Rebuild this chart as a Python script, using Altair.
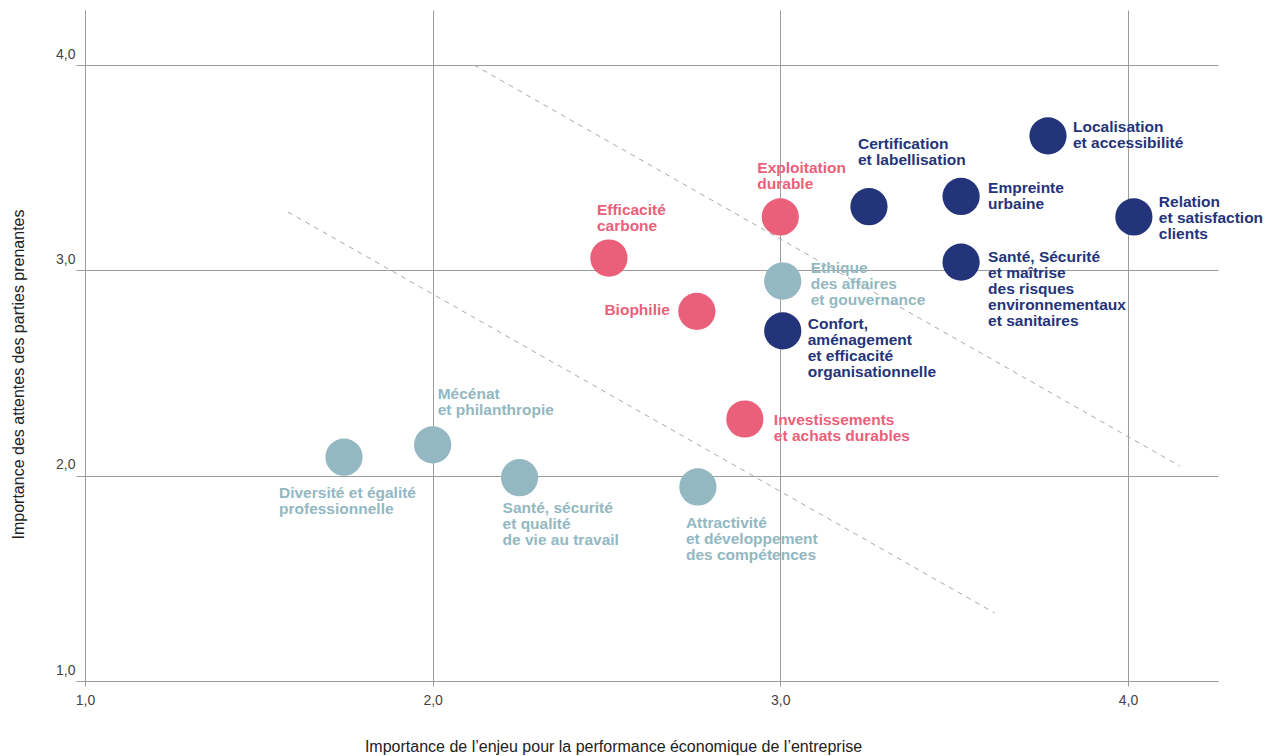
import altair as alt
import pandas as pd

# ---- data ----
names = [
    "Localisation", "Certification", "Empreinte", "Relation", "SanteSecurite", "Confort",
    "Exploitation", "Efficacite", "Biophilie", "Investissements",
    "Ethique", "Mecenat", "Diversite", "SanteQualite", "Attractivite",
]
labels = [
    "Localisation\net accessibilité",
    "Certification\net labellisation",
    "Empreinte\nurbaine",
    "Relation\net satisfaction\nclients",
    "Santé, Sécurité\net maîtrise\ndes risques\nenvironnementaux\net sanitaires",
    "Confort,\naménagement\net efficacité\norganisationnelle",
    "Exploitation\ndurable",
    "Efficacité\ncarbone",
    "Biophilie",
    "Investissements\net achats durables",
    "Ethique\ndes affaires\net gouvernance",
    "Mécénat\net philanthropie",
    "Diversité et égalité\nprofessionnelle",
    "Santé, sécurité\net qualité\nde vie au travail",
    "Attractivité\net développement\ndes compétences",
]
x_eco = [3.77, 3.255, 3.52, 4.017, 3.52, 3.007,
         3.0, 2.507, 2.76, 2.898,
         3.007, 2.0, 1.745, 2.25, 2.763]
y_stake = [3.655, 3.31, 3.36, 3.26, 3.04, 2.705,
           3.26, 3.06, 2.80, 2.276,
           2.948, 2.15, 2.09, 1.99, 1.945]
category = ["navy"] * 6 + ["pink"] * 4 + ["teal"] * 5

trend_id = ["haut", "haut", "bas", "bas"]
trend_x = [2.119, 4.149, 1.584, 3.617]
trend_y = [4.0, 2.047, 3.284, 1.331]

tick_values = [1, 2, 3, 4]

# ---- label layout (offsets from bubble centre) ----
label_dx = [25, -11, 27, 25, 27, 25, -23, -12, -27, 29, 28, 5, -65, -17, -12]
label_dy = [-16, -70, -15, -22, -12, -14, -56, -55, -8, -6, -20, -58, 29, 23, 29]
label_align = ["left"] * 8 + ["right"] + ["left"] * 6

df = pd.DataFrame(dict(idx=list(range(len(names))), name=names, label=labels,
                       x=x_eco, y=y_stake, cat=category))
tdf = pd.DataFrame(dict(id=trend_id, x=trend_x, y=trend_y))

FONT = "Liberation Sans"
GRID = "#9c9c9c"
xscale = alt.Scale(domain=[1, 4.259], nice=False, zero=False)
yscale = alt.Scale(domain=[1, 4.268], nice=False, zero=False)
cscale = alt.Scale(domain=["navy", "pink", "teal"], range=["#24347a", "#ea5f79", "#93b8c1"])
fmt = "replace(format(datum.value, '.1f'), '.', ',')"

xaxis = alt.Axis(values=tick_values, labelExpr=fmt, grid=True, gridColor=GRID,
                 domainColor=GRID, tickColor=GRID, tickSize=5, labelPadding=7, labelFlush=False,
                 labelFont=FONT, labelFontSize=14, labelColor="#444",
                 title="Importance de l\u2019enjeu pour la performance économique de l\u2019entreprise",
                 titleFont=FONT, titleFontSize=16, titleFontWeight="normal", titleColor="#222",
                 titleX=528, titleY=70, titleAlign="center", titleBaseline="alphabetic")
yaxis = alt.Axis(values=tick_values, labelExpr=fmt, grid=True, gridColor=GRID,
                 domainColor=GRID, tickColor=GRID, tickSize=9, labelPadding=1, labelFlush=False,
                 labelBaseline="alphabetic", labelOffset=-7,
                 labelFont=FONT, labelFontSize=14, labelColor="#444",
                 title="Importance des attentes des parties prenantes",
                 titleFont=FONT, titleFontSize=16, titleFontWeight="normal", titleColor="#222",
                 titleX=-67, titleY=364, titleAlign="center", titleBaseline="middle", titleAngle=270)

lines = alt.Chart(tdf).mark_line(color="#aaaaaa", strokeDash=[5, 5], strokeWidth=1).encode(
    x=alt.X("x:Q", scale=xscale, axis=xaxis),
    y=alt.Y("y:Q", scale=yscale, axis=yaxis),
    detail="id:N",
)

circles = alt.Chart(df).mark_circle(size=1385, opacity=1).encode(
    x=alt.X("x:Q", scale=xscale),
    y=alt.Y("y:Q", scale=yscale),
    color=alt.Color("cat:N", scale=cscale, legend=None),
)

layers = [lines, circles]
for i in range(len(names)):
    layers.append(
        alt.Chart(df).transform_filter(alt.datum.idx == i).mark_text(
            align=label_align[i], baseline="top", dx=label_dx[i], dy=label_dy[i],
            font=FONT, fontSize=15.5, fontWeight="bold", lineBreak="\n", lineHeight=16,
        ).encode(
            x=alt.X("x:Q", scale=xscale),
            y=alt.Y("y:Q", scale=yscale),
            text="label:N",
            color=alt.Color("cat:N", scale=cscale, legend=None),
        )
    )

chart = alt.layer(*layers).properties(
    width=1133, height=671,
    padding={"left": 77, "top": 2, "right": 50, "bottom": 75},
    autosize=alt.AutoSizeParams(type="none"),
).configure_view(stroke=None)

chart.save("out.html", embed_options={"renderer": "svg", "actions": False})
